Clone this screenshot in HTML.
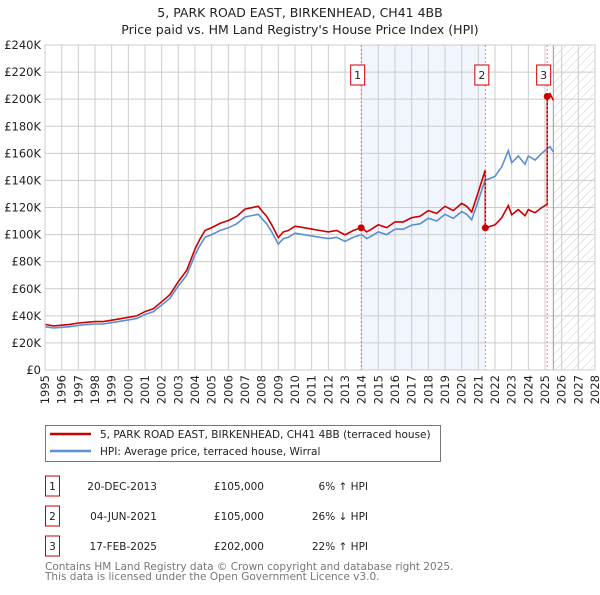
<!DOCTYPE html>
<html><head><meta charset="utf-8"><style>
body{margin:0;background:#fff;font-family:"Liberation Sans","DejaVu Sans",sans-serif}
svg text{font-family:"DejaVu Sans","Liberation Sans",sans-serif}
</style></head><body>
<svg id="chart" width="600" height="590" viewBox="0 0 600 590" xmlns="http://www.w3.org/2000/svg">
<defs>
<pattern id="hatch" patternUnits="userSpaceOnUse" width="6" height="6" patternTransform="rotate(45)">
<line x1="0" y1="0" x2="0" y2="6" stroke="#ccc" stroke-width="1"/></pattern>
</defs>
<text x="300" y="17" text-anchor="middle" font-size="12.5" fill="#222">5, PARK ROAD EAST, BIRKENHEAD, CH41 4BB</text>
<text x="300" y="34" text-anchor="middle" font-size="12.5" fill="#222">Price paid vs. HM Land Registry's House Price Index (HPI)</text>
<g id="plot"></g>
<g>
<rect x="45.5" y="425.5" width="395" height="36" fill="#fff" stroke="#777"/>
<line x1="50" y1="434" x2="91" y2="434" stroke="#cc0000" stroke-width="2.5"/>
<text x="100" y="438" font-size="10.5" fill="#222">5, PARK ROAD EAST, BIRKENHEAD, CH41 4BB (terraced house)</text>
<line x1="50" y1="451" x2="91" y2="451" stroke="#5b8fd0" stroke-width="2.5"/>
<text x="100" y="455" font-size="10.5" fill="#222">HPI: Average price, terraced house, Wirral</text>
</g>
<g id="table" font-size="10.5" fill="#222"></g>
<text x="45" y="570" font-size="10.5" fill="#777">Contains HM Land Registry data © Crown copyright and database right 2025.</text>
<text x="45" y="580" font-size="10.5" fill="#777">This data is licensed under the Open Government Licence v3.0.</text>
</svg>
<script>
const hpiYears=[1995,1995.5,1996,1996.5,1997,1997.5,1998,1998.5,1999,1999.5,2000,2000.5,2001,2001.5,2002,2002.5,2003,2003.5,2004,2004.3,2004.6,2005,2005.5,2006,2006.5,2007,2007.4,2007.8,2008,2008.3,2008.6,2009,2009.3,2009.6,2010,2010.5,2011,2011.5,2012,2012.5,2013,2013.5,2014,2014.3,2014.6,2015,2015.5,2016,2016.5,2017,2017.5,2018,2018.5,2019,2019.5,2020,2020.3,2020.6,2021,2021.4,2021.8,2022,2022.4,2022.8,2023,2023.4,2023.8,2024,2024.4,2024.8,2025,2025.3,2025.5];
const hpiValues=[32,31,31.5,32,33,33.5,34,34,35,36,37,38,41,43,48,53,62,70,85,92,98,100,103,105,108,113,114,115,112,108,102,93,97,98,101,100,99,98,97,98,95,98,100,97,99,102,100,104,104,107,108,112,110,115,112,117,115,111,125,140,142,143,150,162,153,158,152,158,155,160,162,165,161];
const saleYears=[2013.97,2021.42,2025.13];
const salePrices=[105,105,202];
const yTicks=[0,20,40,60,80,100,120,140,160,180,200,220,240];
const xTicks=[1995,1996,1997,1998,1999,2000,2001,2002,2003,2004,2005,2006,2007,2008,2009,2010,2011,2012,2013,2014,2015,2016,2017,2018,2019,2020,2021,2022,2023,2024,2025,2026,2027,2028];
const saleDates=["20-DEC-2013","04-JUN-2021","17-FEB-2025"];
const saleLabels=["£105,000","£105,000","£202,000"];
const hpiDiffs=["6% \u2191 HPI","26% \u2193 HPI","22% \u2191 HPI"];

const NS="http://www.w3.org/2000/svg";
const X0=45,X1=595,Y0=370,Y1=45;
const xs=y=>X0+(y-1995)/(2028-1995)*(X1-X0);
const ys=v=>Y0-v/240*(Y0-Y1);
function mk(tag,at,parent){const e=document.createElementNS(NS,tag);for(const k in at)e.setAttribute(k,at[k]);parent.appendChild(e);return e;}
const g=document.getElementById('plot');
function hpiAt(t){for(let i=1;i<hpiYears.length;i++){if(t<=hpiYears[i]){const f=(t-hpiYears[i-1])/(hpiYears[i]-hpiYears[i-1]);return hpiValues[i-1]+f*(hpiValues[i]-hpiValues[i-1]);}}return hpiValues[hpiValues.length-1];}

let r=mk('rect',{x:xs(saleYears[0]),y:Y1,width:xs(saleYears[1])-xs(saleYears[0]),height:Y0-Y1,fill:'#eef3fc',opacity:0.8},g);


r=mk('rect',{x:xs(2025.5),y:Y1,width:X1-xs(2025.5),height:Y0-Y1,fill:'url(#hatch)'},g);


yTicks.forEach(v=>{
  mk('line',{x1:X0,x2:X1,y1:ys(v),y2:ys(v),stroke:'#ccc','stroke-width':1},g);
  const t=mk('text',{x:X0-4,y:ys(v)+4,'text-anchor':'end','font-size':11.5,fill:'#222'},g);
  t.textContent='£'+(v===0?'0':v+'K');
  
  
});
xTicks.forEach(y=>{
  mk('line',{x1:xs(y),x2:xs(y),y1:Y1,y2:Y0,stroke:'#ccc','stroke-width':1},g);
  const cx=xs(y)+4,cy=Y0+5;
  const t=mk('text',{x:cx,y:cy,'text-anchor':'end','font-size':11.5,fill:'#222',transform:'rotate(-90 '+cx+' '+cy+')'},g);
  t.textContent=y;
  
  
});
mk('line',{x1:xs(2025.5),x2:xs(2025.5),y1:Y1,y2:Y0,stroke:'#999','stroke-width':1},g);
let d=hpiYears.map((y,i)=>(i?'L':'M')+xs(y).toFixed(1)+','+ys(hpiValues[i]).toFixed(1)).join('');
let p=mk('path',{d:d,fill:'none',stroke:'#5b8fd0','stroke-width':1.6},g);


const pts=[];
function factor(t){let k=-1;for(let i=0;i<saleYears.length;i++)if(t>=saleYears[i])k=i;const j=k<0?0:k;return salePrices[j]/hpiAt(saleYears[j]);}
const tAll=hpiYears.concat(saleYears).sort((a,b)=>a-b);
tAll.forEach(t=>{
  const si=saleYears.indexOf(t);
  if(si>0){const f=salePrices[si-1]/hpiAt(saleYears[si-1]);pts.push([t,hpiAt(t)*f]);}
  pts.push([t,hpiAt(t)*factor(t)]);
});
d=pts.map((q,i)=>(i?'L':'M')+xs(q[0]).toFixed(1)+','+ys(q[1]).toFixed(1)).join('');
p=mk('path',{d:d,fill:'none',stroke:'#cc0000','stroke-width':1.6},g);


mk('rect',{x:X0,y:Y1,width:X1-X0,height:Y0-Y1,fill:'none',stroke:'#ccc'},g);
saleYears.forEach((y,i)=>{
  mk('line',{x1:xs(y),x2:xs(y),y1:Y1,y2:Y0,stroke:'#f08080','stroke-dasharray':'2,2','stroke-width':1},g);
  const c=mk('circle',{cx:xs(y),cy:ys(salePrices[i]),r:3.5,fill:'#cc0000'},g);
  
  
  const bx=mk('rect',{x:xs(y)-10.5,y:65,width:14,height:20,fill:'#fff',stroke:'#cc0000'},g);
  
  
  const t=mk('text',{x:xs(y)-3.5,y:79,'text-anchor':'middle','font-size':11,fill:'#222'},g);
  t.textContent=i+1;
});
const tb=document.getElementById('table');
saleDates.forEach((s,i)=>{
  const y=483+i*30;
  const b=mk('rect',{x:45.5,y:y-7,width:14,height:20,fill:'#fff',stroke:'#cc0000'},tb);
  
  
  let t=mk('text',{x:52.5,y:y+7,'text-anchor':'middle'},tb);t.textContent=i+1;
  t=mk('text',{x:157,y:y+7,'text-anchor':'end'},tb);t.textContent=s;
  
  
  t=mk('text',{x:264,y:y+7,'text-anchor':'end'},tb);t.textContent=saleLabels[i];
  
  
  t=mk('text',{x:368,y:y+7,'text-anchor':'end'},tb);t.textContent=hpiDiffs[i];
  
  
});
</script>
</body></html>
